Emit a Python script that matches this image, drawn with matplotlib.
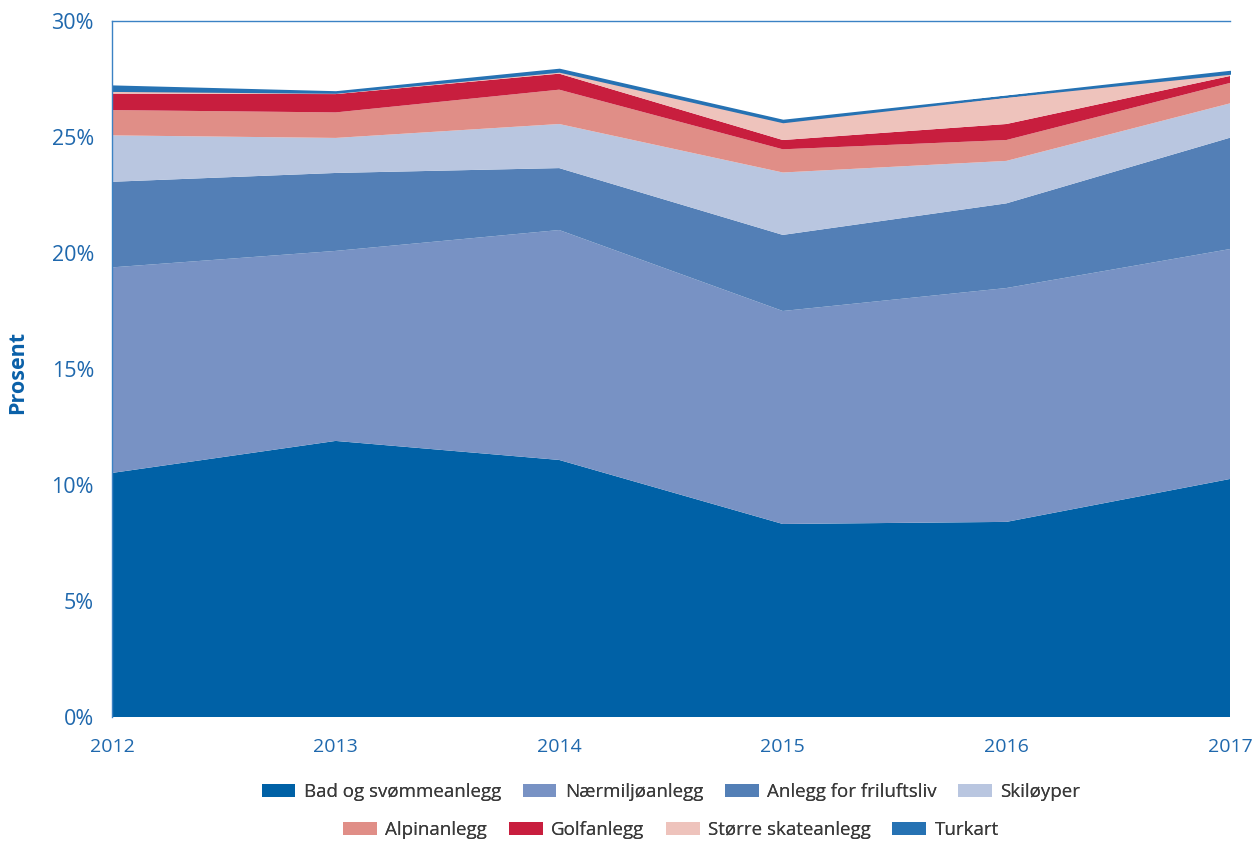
import numpy as np
import matplotlib.pyplot as plt
from matplotlib.patches import Patch
from matplotlib.ticker import PercentFormatter

plt.rcParams['font.family'] = ['Open Sans', 'DejaVu Sans']

# Data (prosent)
years = [2012, 2013, 2014, 2015, 2016, 2017]
bad = [10.52, 11.90, 11.08, 8.32, 8.41, 10.26]
naermiljo = [8.86, 8.19, 9.91, 9.18, 10.08, 9.91]
friluftsliv = [3.69, 3.36, 2.67, 3.28, 3.65, 4.80]
skiloyper = [2.00, 1.51, 1.90, 2.69, 1.83, 1.48]
alpin = [1.09, 1.10, 1.48, 1.00, 0.90, 0.88]
golf = [0.71, 0.79, 0.69, 0.40, 0.69, 0.30]
skate = [0.13, 0.07, 0.10, 0.78, 1.19, 0.11]
turkart = [0.21, 0.04, 0.10, 0.08, 0.02, 0.10]

labels = ['Bad og svømmeanlegg', 'Nærmiljøanlegg', 'Anlegg for friluftsliv', 'Skiløyper',
          'Alpinanlegg', 'Golfanlegg', 'Større skateanlegg', 'Turkart']
colors = ['#0061a6', '#7892c4', '#537fb6', '#b9c6e0',
          '#e08e87', '#c81e3e', '#eec3bc', '#2672b3']
blue_txt = '#1f68ad'

fig = plt.figure(figsize=(12.53, 8.43), dpi=100)
ax = fig.add_axes([112 / 1253, 1 - 717 / 843, (1230 - 112) / 1253, (717 - 21) / 843])

polys = ax.stackplot(years, bad, naermiljo, friluftsliv, skiloyper, alpin, golf, skate, turkart,
                     colors=colors, linewidth=0)
polys[-1].set_edgecolor(colors[-1])
polys[-1].set_linewidth(1.2)

ax.set_xlim(2012, 2017)
ax.set_ylim(0, 30)
ax.set_yticks(np.arange(0, 31, 5))
ax.set_xticks(years)
ax.yaxis.set_major_formatter(PercentFormatter(decimals=0))
ax.tick_params(length=0, labelcolor=blue_txt)
ax.tick_params(axis='y', pad=13, labelsize=15.5)
ax.tick_params(axis='x', pad=15, labelsize=14)
ax.set_ylabel('Prosent', fontsize=15.5, fontweight='bold', color='#0a60a8')
ax.yaxis.set_label_coords(-84 / 1118, 0.495)

for s in ['right', 'bottom']:
    ax.spines[s].set_visible(False)
for s in ['left', 'top']:
    ax.spines[s].set_color('#3b82c4')
    ax.spines[s].set_linewidth(1)

handles = [Patch(facecolor=c, edgecolor='none') for c in colors]
cx = (112 + 1230) / 2 / 1253
for row, yy in [(0, 0.0605), (1, 0.0154)]:
    leg = fig.legend(handles[row * 4:row * 4 + 4], labels[row * 4:row * 4 + 4],
                     loc='center', bbox_to_anchor=(cx, yy), ncol=4, frameon=False,
                     fontsize=13.5, handlelength=1.8, handleheight=0.75,
                     columnspacing=1.15, handletextpad=0.45, labelcolor='#3a3a3a')
    fig.add_artist(leg)

fig.savefig('out.png', dpi=100)
